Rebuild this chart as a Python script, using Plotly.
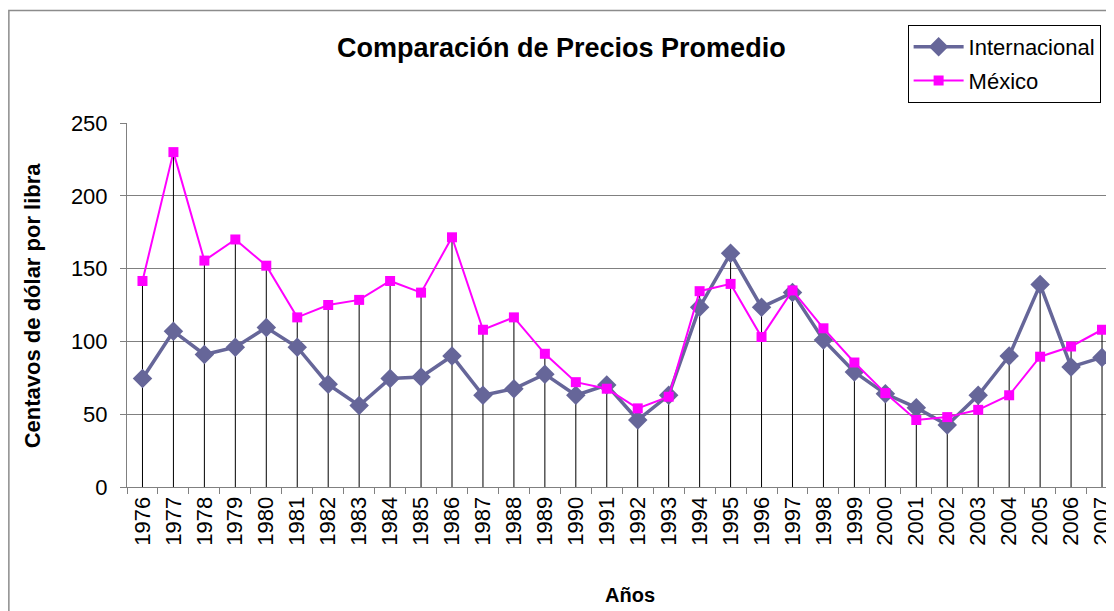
import plotly.graph_objects as go

years = ["1976", "1977", "1978", "1979", "1980", "1981", "1982", "1983", "1984", "1985",
         "1986", "1987", "1988", "1989", "1990", "1991", "1992", "1993", "1994", "1995",
         "1996", "1997", "1998", "1999", "2000", "2001", "2002", "2003", "2004", "2005",
         "2006", "2007"]

internacional = [74.5, 107, 91, 96, 109.5, 96, 70.5, 56, 74.5, 75.5,
                 90, 63, 67.5, 77.5, 63, 70, 46, 63, 123.5, 160.5,
                 123.5, 133.5, 101, 79, 64, 54.5, 42.5, 63, 90, 139,
                 82.5, 89]

mexico = [141.5, 230, 155.5, 170, 152, 116.5, 125, 128.5, 141.5, 133.5,
          171.5, 108, 116.5, 91.5, 72, 67.5, 54, 62, 134.5, 139.5,
          103, 135, 109, 85.5, 64.5, 46, 48, 53, 63, 89.5,
          96.5, 108]

title_text = "Comparación de Precios Promedio"
y_title = "Centavos de dólar por libra"
x_title = "Años"

FONT = "Liberation Sans, Arial, sans-serif"

# page body has an 8px margin; work in reference pixel coordinates
OFF = 8
W, H = 1114 - OFF, 611 - OFF
L, T = 127 - OFF, 123 - OFF
B = H - (487 - OFF)
R = 0
pw = W - L - R
ph = H - T - B


def px_x(p):
    return (p - OFF - L) / pw


def px_y(p):
    return (H - B - (p - OFF)) / ph


fig = go.Figure()

drop_x, drop_y = [], []
for yr, a, b in zip(years, internacional, mexico):
    drop_x += [yr, yr, None]
    drop_y += [0, max(a, b), None]

fig.add_trace(go.Scatter(x=drop_x, y=drop_y, mode="lines",
                         line=dict(color="black", width=1),
                         showlegend=False, hoverinfo="skip"))

fig.add_trace(go.Scatter(x=years, y=internacional, name="Internacional",
                         mode="lines+markers", legendgroup="a",
                         line=dict(color="#666699", width=3.5),
                         marker=dict(symbol="diamond", size=15, color="#666699")))

fig.add_trace(go.Scatter(x=years, y=mexico, name="México",
                         mode="lines+markers", legendgroup="b",
                         line=dict(color="#FF00FF", width=2),
                         marker=dict(symbol="square", size=10, color="#FF00FF")))

fig.update_layout(
    width=W, height=H,
    margin=dict(l=L, r=R, t=T, b=B, pad=0),
    paper_bgcolor="white", plot_bgcolor="white",
    font=dict(family=FONT, color="black", size=20),
    showlegend=True,
    legend=dict(x=px_x(910), y=px_y(25), xanchor="left", yanchor="top",
                bordercolor="black", borderwidth=1, bgcolor="white",
                font=dict(size=22, family=FONT), tracegroupgap=2,
                itemwidth=50),
    xaxis=dict(type="category", range=[-0.5, 31.29], tickangle=-90,
               tickson="boundaries", ticks="outside", ticklen=6,
               tickcolor="#808080", showline=True, linecolor="#808080",
               linewidth=1, showgrid=False, zeroline=False,
               tickfont=dict(size=22, family=FONT)),
    yaxis=dict(range=[0, 250], dtick=50, ticks="outside", ticklen=6,
               tickcolor="#808080", showline=True, linecolor="#808080",
               linewidth=1, showgrid=True, gridcolor="#808080", gridwidth=1,
               zeroline=False, ticklabelstandoff=8,
               tickfont=dict(size=22, family=FONT)),
    annotations=[
        dict(text=title_text, xref="paper", yref="paper", x=px_x(563), y=px_y(48),
             xanchor="center", yanchor="middle", showarrow=False,
             font=dict(size=27, family=FONT, weight="bold")),
        dict(text=y_title, xref="paper", yref="paper", x=px_x(32), y=0.5,
             xanchor="center", yanchor="middle", textangle=-90, showarrow=False,
             font=dict(size=22, family=FONT, weight="bold")),
        dict(text=x_title, xref="paper", yref="paper", x=px_x(632), y=px_y(595),
             xanchor="center", yanchor="middle", showarrow=False,
             font=dict(size=20, family=FONT, weight="bold")),
    ],
    shapes=[
        dict(type="rect", xref="paper", yref="paper",
             x0=px_x(8.5), x1=px_x(1300), y0=px_y(800), y1=px_y(10.5),
             line=dict(color="#8c8c8c", width=1.5), fillcolor="rgba(0,0,0,0)",
             layer="below"),
    ],
)

fig.write_html("out.html")
